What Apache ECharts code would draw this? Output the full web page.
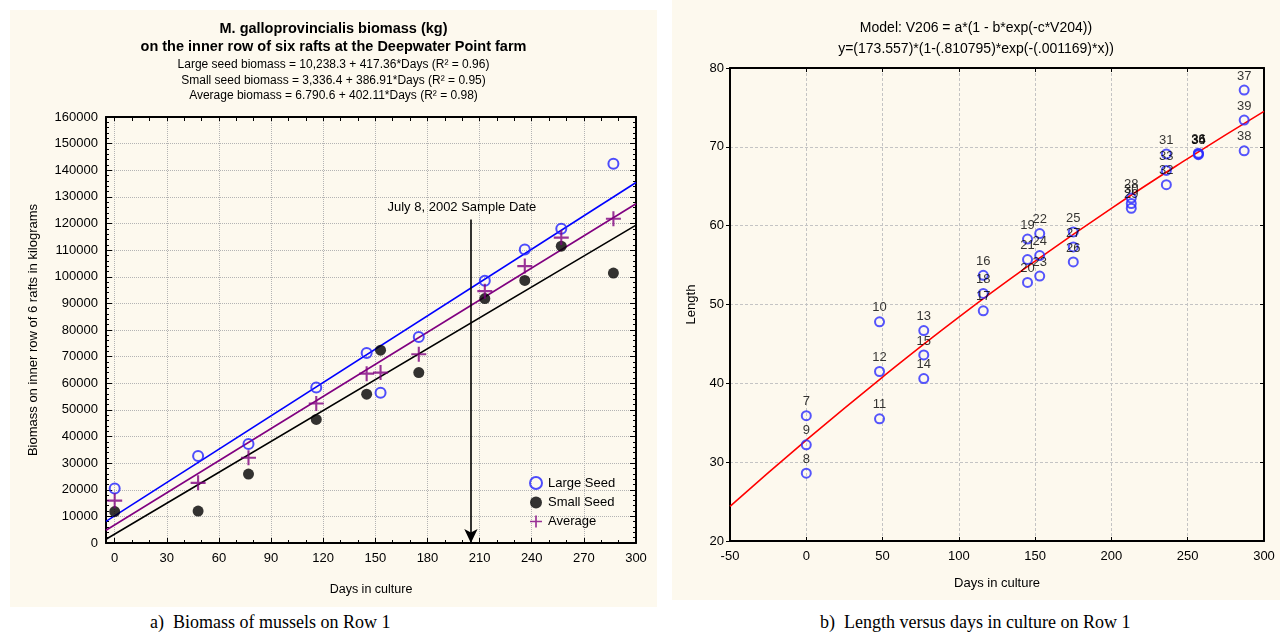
<!DOCTYPE html>
<html>
<head>
<meta charset="utf-8">
<title>Mussel biomass and length</title>
<script src="https://cdn.jsdelivr.net/npm/echarts@6/dist/echarts.min.js"></script>
<style>
  body { margin: 0; width: 1280px; height: 639px; background: #fff; position: relative; overflow: hidden; }
  .panel { position: absolute; background: #fdf9ee; }
  #left { left: 10px; top: 10px; width: 647px; height: 597px; }
  #right { left: 672px; top: 0; width: 608px; height: 600px; }
  .caption { position: absolute; top: 612px; font-family: 'Liberation Serif', 'Times New Roman', serif; font-size: 18px; color: #000; white-space: pre; }
</style>
</head>
<body>
<div id="left" class="panel"></div>
<div id="right" class="panel"></div>
<div class="caption" style="left:150px">a)  Biomass of mussels on Row 1</div>
<div class="caption" style="left:820px">b)  Length versus days in culture on Row 1</div>
<script>
// left chart: biomass by days in culture
const bioDays = [0, 48, 77, 116, 145, 153, 175, 213, 236, 257, 287]
const largeSeed = [20500, 32700, 37200, 58400, 71400, 56400, 77400, 98500, 110200, 118000, 142400]
const smallSeed = [11800, 12000, 25900, 46400, 55900, 72400, 64000, 91800, 98600, 111500, 101400]
const averageBio = [15900, 22600, 32000, 52400, 63600, 64000, 70900, 94600, 104000, 114700, 121800]

// regression lines, ends read at the plot edges
const fitDays = [-5, 300]
const fitLarge = [8150, 135400]
const fitSmall = [1400, 119400]
const fitAverage = [4800, 127400]

// sample date arrow
const sampleDay = 205
const sampleTop = 121500

const dayTicks = [0, 30, 60, 90, 120, 150, 180, 210, 240, 270, 300]
const dayMinorTicks = [0, 10, 20, 30, 40, 50, 60, 70, 80, 90, 100, 110, 120, 130, 140, 150,
  160, 170, 180, 190, 200, 210, 220, 230, 240, 250, 260, 270, 280, 290, 300]

// right chart: shell length by days in culture
const lenDays = [0, 0, 0, 48, 48, 48, 77, 77, 77, 116, 116, 116, 145, 145, 145, 153, 153, 153,
  175, 175, 175, 213, 213, 213, 236, 236, 236, 257, 257, 257, 287, 287, 287]
const lenIds = [7, 8, 9, 10, 11, 12, 13, 14, 15, 16, 17, 18, 19, 20, 21, 22, 23, 24,
  25, 26, 27, 28, 29, 30, 31, 32, 33, 34, 35, 36, 37, 38, 39]
const lengths = [35.9, 28.6, 32.2, 47.8, 35.5, 41.5, 46.7, 40.6, 43.6, 53.7, 49.2, 51.4,
  58.3, 52.8, 55.7, 59.0, 53.6, 56.2, 59.2, 55.4, 57.3, 63.5, 62.2, 62.8,
  69.1, 65.2, 67.0, 69.1, 69.0, 69.2, 77.2, 69.5, 73.4]

// fitted model curve
const curveDays = [-50, 0, 50, 100, 150, 200, 250, 300]
const curveLen = [24.4, 32.8, 40.8, 48.4, 55.5, 62.2, 68.5, 74.5]

const font = "'Liberation Sans', Arial, sans-serif"
const pairs = (xs, ys) => xs.map((x, i) => [x, ys[i]])
const plusPath = 'path://M4.3,0h1.4v4.3h4.3v1.4h-4.3v4.3h-1.4v-4.3h-4.3v-1.4h4.3z'

const frame = { onZero: false, lineStyle: { color: '#000', width: 2 } }
const noLabel = { show: false }
const plain = (v) => String(v)

const leftChart = echarts.init(document.getElementById('left'))
leftChart.setOption({
  animation: false,
  textStyle: { fontFamily: font },
  title: {
    text: 'M. galloprovincialis biomass (kg)\non the inner row of six rafts at the Deepwater Point farm',
    subtext: 'Large seed biomass = 10,238.3 + 417.36*Days (R² = 0.96)\n' +
      'Small seed biomass = 3,336.4 + 386.91*Days (R² = 0.95)\n' +
      'Average biomass = 6.790.6 + 402.11*Days (R² = 0.98)',
    left: 'center',
    top: 5,
    itemGap: 1,
    textStyle: { fontFamily: font, fontSize: 14.5, fontWeight: 'bold', color: '#000', lineHeight: 18 },
    subtextStyle: { fontFamily: font, fontSize: 12, color: '#000', lineHeight: 15.5 }
  },
  legend: {
    data: ['Large Seed', 'Small Seed', 'Average'],
    orient: 'vertical',
    left: 514,
    top: 461,
    itemWidth: 14,
    itemHeight: 12,
    itemGap: 6,
    textStyle: { fontFamily: font, fontSize: 13, color: '#000' }
  },
  grid: { left: 96, top: 107, width: 530, height: 426 },
  xAxis: [
    {
      type: 'value', min: -5, max: 300, position: 'bottom',
      name: 'Days in culture', nameLocation: 'middle', nameGap: 40,
      nameTextStyle: { fontFamily: font, fontSize: 12.5, color: '#000' },
      axisLine: frame,
      axisTick: { customValues: dayTicks, inside: true, length: 5, lineStyle: { color: '#000' } },
      axisLabel: { customValues: dayTicks, color: '#000', fontSize: 13, margin: 9, formatter: plain },
      splitLine: { show: true, lineStyle: { type: 'dotted', color: '#b4b4b4' } }
    },
    {
      type: 'value', min: -5, max: 300, position: 'bottom',
      axisLine: { show: false, onZero: false },
      axisTick: { customValues: dayMinorTicks, inside: true, length: 3, lineStyle: { color: '#000' } },
      axisLabel: { customValues: dayMinorTicks, show: false },
      splitLine: { show: false }
    },
    {
      type: 'value', min: -5, max: 300, position: 'top',
      axisLine: frame,
      axisTick: { customValues: dayMinorTicks, inside: true, length: 4, lineStyle: { color: '#000' } },
      axisLabel: { customValues: dayMinorTicks, show: false },
      splitLine: { show: false }
    }
  ],
  yAxis: [
    {
      type: 'value', min: 0, max: 160000, interval: 10000, position: 'left',
      name: 'Biomass on inner row of 6 rafts in kilograms', nameLocation: 'middle', nameGap: 66,
      nameTextStyle: { fontFamily: font, fontSize: 13, color: '#000' },
      axisLine: frame,
      axisTick: { inside: true, length: 6, lineStyle: { color: '#000' } },
      minorTick: { show: true, splitNumber: 5, length: 3, lineStyle: { color: '#000' } },
      axisLabel: { color: '#000', fontSize: 13, margin: 8, formatter: plain },
      splitLine: { show: true, lineStyle: { type: 'dotted', color: '#b4b4b4' } }
    },
    {
      type: 'value', min: 0, max: 160000, interval: 10000, position: 'right',
      axisLine: frame,
      axisTick: { inside: true, length: 6, lineStyle: { color: '#000' } },
      minorTick: { show: true, splitNumber: 5, length: 3, lineStyle: { color: '#000' } },
      axisLabel: noLabel,
      splitLine: { show: false }
    }
  ],
  series: [
    {
      name: 'fitLarge', type: 'line', data: pairs(fitDays, fitLarge), symbol: 'none', z: 2,
      lineStyle: { color: '#0000ff', width: 1.6 }
    },
    {
      name: 'fitSmall', type: 'line', data: pairs(fitDays, fitSmall), symbol: 'none', z: 2,
      lineStyle: { color: '#000', width: 1.6 }
    },
    {
      name: 'fitAverage', type: 'line', data: pairs(fitDays, fitAverage), symbol: 'none', z: 2,
      lineStyle: { color: '#800080', width: 1.6 }
    },
    {
      name: 'sample', type: 'line', data: [], z: 2,
      markLine: {
        silent: true,
        symbol: ['none', 'arrow'],
        symbolSize: [10, 14],
        lineStyle: { color: '#000', width: 1.6, type: 'solid' },
        label: {
          show: true, position: 'start', distance: 6, color: '#000', fontSize: 13, fontFamily: font,
          offset: [-9, 0],
          formatter: 'July 8, 2002 Sample Date'
        },
        data: [[{ coord: [sampleDay, sampleTop] }, { coord: [sampleDay, 0] }]]
      }
    },
    {
      name: 'Large Seed', type: 'scatter', data: pairs(bioDays, largeSeed), z: 3,
      symbol: 'circle', symbolSize: 10,
      itemStyle: { color: 'rgba(255,255,255,0)', borderColor: '#2020ff', borderWidth: 2 }
    },
    {
      name: 'Small Seed', type: 'scatter', data: pairs(bioDays, smallSeed), z: 3,
      symbol: 'circle', symbolSize: 11,
      itemStyle: { color: '#000' }
    },
    {
      name: 'Average', type: 'scatter', data: pairs(bioDays, averageBio), z: 3,
      symbol: plusPath, symbolSize: 15,
      itemStyle: { color: '#800080' }
    }
  ]
})

const rightChart = echarts.init(document.getElementById('right'))
rightChart.setOption({
  animation: false,
  textStyle: { fontFamily: font },
  title: {
    text: 'Model: V206 = a*(1 - b*exp(-c*V204))\ny=(173.557)*(1-(.810795)*exp(-(.001169)*x))',
    left: 'center',
    top: 13,
    textStyle: { fontFamily: font, fontSize: 14, fontWeight: 'normal', color: '#000', lineHeight: 21 }
  },
  grid: { left: 58, top: 68, width: 534, height: 473 },
  xAxis: [
    {
      type: 'value', min: -50, max: 300, interval: 50, position: 'bottom',
      name: 'Days in culture', nameLocation: 'middle', nameGap: 36,
      nameTextStyle: { fontFamily: font, fontSize: 13, color: '#000' },
      axisLine: frame,
      axisTick: { inside: true, length: 4, lineStyle: { color: '#000' } },
      axisLabel: { color: '#000', fontSize: 13, margin: 9 },
      splitLine: { show: true, lineStyle: { type: [3, 2], color: '#c4c4c4' } }
    },
    {
      type: 'value', min: -50, max: 300, interval: 50, position: 'top',
      axisLine: frame,
      axisTick: { inside: true, length: 4, lineStyle: { color: '#000' } },
      axisLabel: noLabel,
      splitLine: { show: false }
    }
  ],
  yAxis: [
    {
      type: 'value', min: 20, max: 80, interval: 10, position: 'left',
      name: 'Length', nameLocation: 'middle', nameGap: 32,
      nameTextStyle: { fontFamily: font, fontSize: 13, color: '#000' },
      axisLine: frame,
      axisTick: { inside: false, length: 4, lineStyle: { color: '#000' } },
      axisLabel: { color: '#000', fontSize: 13, margin: 6 },
      splitLine: { show: true, lineStyle: { type: [3, 2], color: '#c4c4c4' } }
    },
    {
      type: 'value', min: 20, max: 80, interval: 10, position: 'right',
      axisLine: frame,
      axisTick: { inside: true, length: 4, lineStyle: { color: '#000' } },
      axisLabel: noLabel,
      splitLine: { show: false }
    }
  ],
  series: [
    {
      name: 'model', type: 'line', data: pairs(curveDays, curveLen), smooth: true,
      symbol: 'none', z: 2,
      lineStyle: { color: '#ff0000', width: 1.6 }
    },
    {
      name: 'Length', type: 'scatter', z: 3,
      data: lenDays.map((d, i) => [d, lengths[i], lenIds[i]]),
      symbol: 'circle', symbolSize: 9,
      itemStyle: { color: 'rgba(255,255,255,0)', borderColor: '#2b2bff', borderWidth: 2 },
      label: {
        show: true, position: 'top', distance: 2, color: '#000', fontSize: 13, fontFamily: font,
        formatter: (p) => String(p.value[2])
      }
    }
  ]
})
</script>
</body>
</html>
